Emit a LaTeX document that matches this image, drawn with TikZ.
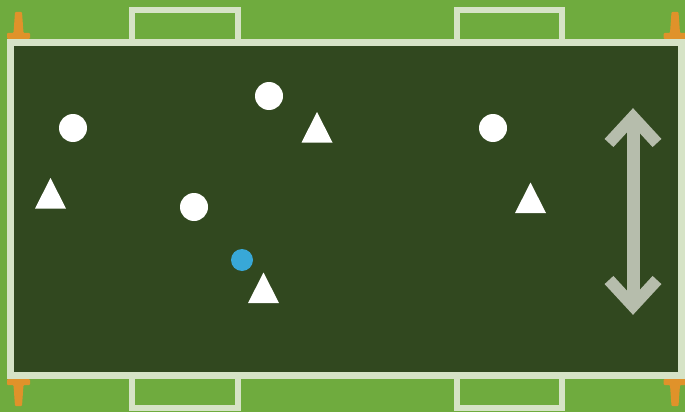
\documentclass[tikz,border=0pt]{standalone}
\usetikzlibrary{shapes.geometric}
\definecolor{grass}{HTML}{6FAB3E}
\definecolor{pitch}{HTML}{31481F}
\definecolor{chalk}{HTML}{D6E3C6}
\definecolor{cone}{HTML}{E0922A}
\definecolor{ballblue}{HTML}{38A8D8}
\definecolor{arrowgrey}{HTML}{B6BDAC}
\tikzset{
  player/.style={circle, fill=white, inner sep=0pt, minimum size=28pt},
  ball/.style={circle, fill=ballblue, inner sep=0pt, minimum size=22pt},
  chalkline/.style={draw=chalk, line width=7pt},
  goalline/.style={draw=chalk, line width=6pt, line join=miter},
  tri/.pic={\fill[white] (-15.5,15) -- (15.5,15) -- (0,-15.5) -- cycle;},
  conetop/.pic={\fill[cone, rounded corners=1pt] (-3.5,-27) -- (3.5,-27) -- (5,-6) -- (11.5,-6) -- (11.5,0) -- (-11.5,0) -- (-11.5,-6) -- (-5,-6) -- cycle;},
  conebot/.pic={\fill[cone, rounded corners=1pt] (-3.5,27) -- (3.5,27) -- (5,6) -- (11.5,6) -- (11.5,0) -- (-11.5,0) -- (-11.5,6) -- (-5,6) -- cycle;}
}
\begin{document}
\begin{tikzpicture}[x=1pt,y=-1pt]
\useasboundingbox (0,0) rectangle (685,412);
\fill[grass] (0,0) rectangle (685,412);
% pitch
\fill[pitch] (10.5,42.5) rectangle (681.5,375);
% goals
\draw[goalline] (132,42.5) -- (132,10) -- (238,10) -- (238,42.5);
\draw[goalline] (456.5,42.5) -- (456.5,10) -- (561.5,10) -- (561.5,42.5);
\draw[goalline] (132,375) -- (132,408) -- (238,408) -- (238,375);
\draw[goalline] (456.5,375) -- (456.5,408) -- (561.5,408) -- (561.5,375);
% outline
\draw[chalkline] (10.5,42.5) rectangle (681.5,375);
% cones
\pic at (18.5,39) {conetop};
\pic at (675,39) {conetop};
\pic at (18.5,379) {conebot};
\pic at (675,379) {conebot};
% players
\node[player] (p1) at (73,128) {};
\node[player] (p2) at (269,96) {};
\node[player] (p3) at (194,207) {};
\node[player] (p4) at (493,128) {};
\node[ball] (b) at (242,260) {};
\pic at (317,127.5) {tri};
\pic at (50.5,193.5) {tri};
\pic at (263.5,288) {tri};
\pic at (530.5,198) {tri};
% double arrow
\coordinate (atop) at (633,117);
\coordinate (abot) at (633,306);
\draw[arrowgrey, line width=13pt] (atop) -- (abot);
\draw[arrowgrey, line width=12pt, line join=miter] (609,143) -- (atop) -- (657,143);
\draw[arrowgrey, line width=12pt, line join=miter] (609,280) -- (abot) -- (657,280);
\end{tikzpicture}
\end{document}
